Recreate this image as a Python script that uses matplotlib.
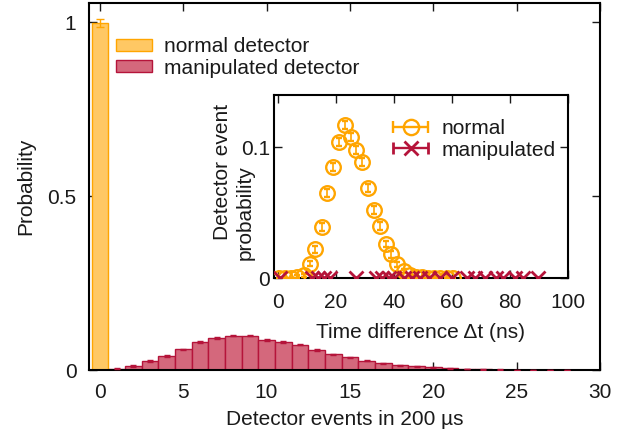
import matplotlib
matplotlib.use("Agg")
import matplotlib.pyplot as plt
from matplotlib.patches import Patch
from matplotlib.container import ErrorbarContainer
from matplotlib.legend_handler import HandlerErrorbar

plt.rcParams["font.family"] = ["Liberation Sans", "DejaVu Sans"]

# Main histogram: detector events per 200 us window
normal_counts = [0]
normal_prob = [0.997]
normal_err = [0.011]

manip_counts = list(range(1, 29))
manip_prob = [0.004, 0.0115, 0.026, 0.040, 0.059, 0.080, 0.092, 0.099, 0.099, 0.087,
              0.081, 0.073, 0.057, 0.045, 0.036, 0.027, 0.019, 0.013, 0.0105, 0.0077,
              0.0046, 0.003, 0.002, 0.0012, 0.0008, 0.0005, 0.0003, 0.0002]
manip_err = [0.001, 0.0015, 0.002, 0.002, 0.002, 0.0025, 0.0025, 0.0025, 0.0025, 0.0025,
             0.0025, 0.0025, 0.002, 0.002, 0.002, 0.0015, 0.0015, 0.001, 0.001, 0.001,
             0.001, 0.0008, 0.0006, 0.0005, 0.0004, 0.0003, 0.0002, 0.0002]

# Inset: time difference distribution
inset_normal_t = [0.4, 2.5, 4.6, 6.7, 8.8, 10.9, 12.9, 15.0, 17.0, 18.8,
                  20.9, 23.0, 25.1, 27.0, 29.0, 31.0, 33.0, 35.0, 37.1, 39.0,
                  41.1, 43.3, 45.5, 47.6, 49.7, 51.8, 53.9, 56.0, 58.1, 60.2]
inset_normal_p = [0, 0, 0, 0.001, 0.002, 0.011, 0.022, 0.039, 0.065, 0.085,
                  0.104, 0.117, 0.108, 0.098, 0.089, 0.069, 0.052, 0.040, 0.026, 0.018,
                  0.0105, 0.0054, 0.0023, 0.001, 0.0005, 0.0003, 0.0002, 0.0001, 0, 0]
inset_normal_e = [0, 0, 0, 0.001, 0.001, 0.002, 0.0025, 0.003, 0.003, 0.003,
                  0.003, 0.003, 0.003, 0.003, 0.003, 0.003, 0.003, 0.003, 0.0025, 0.0025,
                  0.002, 0.0015, 0.001, 0.001, 0, 0, 0, 0, 0, 0]

inset_manip_t = [0.7, 11.6, 13.7, 15.8, 17.9, 26.9, 33.9, 36.0, 38.1, 40.1,
                 43.5, 46.1, 49.0, 52.0, 56.0, 60.0, 65.0, 68.0, 71.5, 75.0,
                 77.7, 81.8, 84.5, 89.5]
inset_manip_p = [0] * len(inset_manip_t)

ORANGE = "#ffa500"
YELLOW_FILL = "#ffc864"
RED_EDGE = "#b5143a"
RED_FILL = "#d4687c"
TEXT = "#1a1a1a"
FS = 15

fig = plt.figure(figsize=(6.44, 4.43), dpi=100)
ax = fig.add_axes([89 / 644, 1 - 370 / 443, 511 / 644, 367 / 443])

ax.bar(manip_counts, manip_prob, width=1.0, color=RED_FILL, edgecolor=RED_EDGE,
       linewidth=1.0, zorder=2)
ax.errorbar(manip_counts, manip_prob, yerr=manip_err, fmt="none", ecolor=RED_EDGE,
            elinewidth=1.0, capsize=2.5, zorder=3)
ax.bar(normal_counts, normal_prob, width=1.0, color=YELLOW_FILL, edgecolor=ORANGE,
       linewidth=1.0, zorder=2)
ax.errorbar(normal_counts, normal_prob, yerr=normal_err, fmt="none", ecolor=ORANGE,
            elinewidth=1.0, capsize=3, zorder=3)

ax.set_xlim(-0.65, 30)
ax.set_ylim(0, 1.055)
ax.set_xticks([0, 5, 10, 15, 20, 25, 30])
ax.set_yticks([0, 0.5, 1])
ax.set_yticklabels(["0", "0.5", "1"])
ax.tick_params(direction="in", length=6, width=1.0, top=True, right=True,
               labelsize=FS, colors=TEXT, pad=9)
for s in ax.spines.values():
    s.set_linewidth(1.5)
ax.set_xlabel("Detector events in 200 µs", fontsize=FS, color=TEXT, labelpad=6)
ax.set_ylabel("Probability", fontsize=FS, color=TEXT, labelpad=9)

handles = [Patch(facecolor=YELLOW_FILL, edgecolor=ORANGE, label="normal detector"),
           Patch(facecolor=RED_FILL, edgecolor=RED_EDGE, label="manipulated detector")]
ax.legend(handles=handles, loc="upper left", bbox_to_anchor=(106 / 644, 1 - 27 / 443),
          bbox_transform=fig.transFigure, frameon=False, fontsize=FS,
          handlelength=1.7, handleheight=0.55, handletextpad=0.6,
          labelspacing=0.1, borderpad=0, labelcolor=TEXT)

# Inset
axi = fig.add_axes([274 / 644, 1 - 278 / 443, 294 / 644, 183 / 443])
axi.errorbar(inset_normal_t, inset_normal_p, yerr=inset_normal_e, fmt="o",
             color=ORANGE, mfc="none", mec=ORANGE, ms=10.5, mew=1.7,
             elinewidth=1.2, capsize=2.5, capthick=1.2, zorder=3)
axi.plot(inset_manip_t, inset_manip_p, "x", color=RED_EDGE, ms=10, mew=2, zorder=4)

axi.set_xlim(-1.4, 100)
axi.set_ylim(0, 0.14)
axi.set_xticks([0, 20, 40, 60, 80, 100])
axi.set_yticks([0, 0.1])
axi.set_yticklabels(["0", "0.1"])
axi.tick_params(direction="in", length=6, width=1.0, top=True, right=True,
                labelsize=FS, colors=TEXT)
axi.tick_params(axis="x", pad=11)
axi.tick_params(axis="y", pad=3)
for s in axi.spines.values():
    s.set_linewidth(1.5)
axi.set_xlabel("Time difference Δt (ns)", fontsize=FS, color=TEXT, labelpad=8)
# two-line y label, each line placed on its own
fig.text(222 / 644, 1 - 172 / 443, "Detector event", rotation=90,
         ha="center", va="center", fontsize=FS, color=TEXT)
fig.text(245 / 644, 1 - 213 / 443, "probability", rotation=90,
         ha="center", va="center", fontsize=FS, color=TEXT)

h1 = axi.errorbar([-50], [-1], xerr=[1], fmt="o", color=ORANGE, mfc="none",
                  mec=ORANGE, ms=11, mew=1.7, elinewidth=1.7, capsize=4,
                  label="normal")
h2 = axi.errorbar([-50], [-1], xerr=[1], fmt="x", color=RED_EDGE, ms=10.5, mew=2,
                  elinewidth=1.7, capsize=4, label="manipulated")
axi.legend(handles=[h1, h2], loc="upper left", bbox_to_anchor=(382 / 644, 1 - 109 / 443),
           bbox_transform=fig.transFigure, frameon=False, fontsize=FS,
           handlelength=1.75, handletextpad=0.6, labelspacing=0.1, borderpad=0,
           labelcolor=TEXT,
           handler_map={ErrorbarContainer: HandlerErrorbar(xerr_size=0.85)})

fig.savefig("out.png", dpi=100)
